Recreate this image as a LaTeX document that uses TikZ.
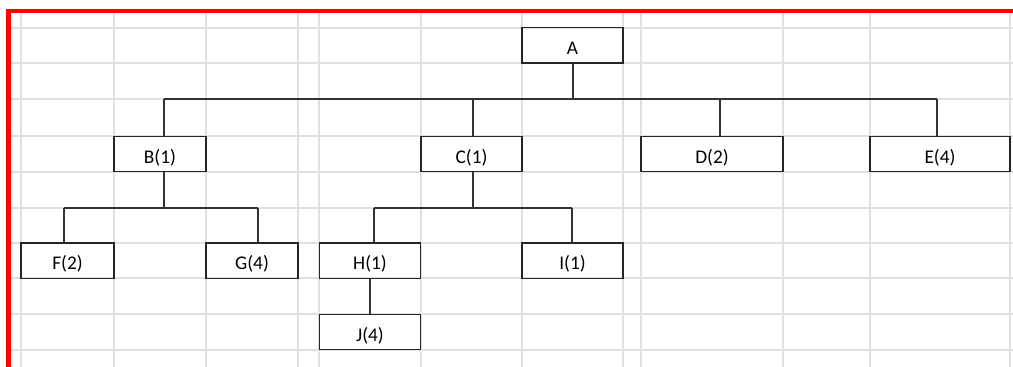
\documentclass[tikz,border=0pt]{standalone}
\usepackage{fontspec}
\setmainfont{Carlito}
\begin{document}
\begin{tikzpicture}[x=0.75pt,y=-0.75pt,
	cell/.style={draw=black!85,line width=1pt,inner sep=0pt,minimum height=26.5pt,text height=14pt,text depth=0pt,font=\fontsize{14.5}{17}\selectfont},
	link/.style={draw=black!80,line width=1.1pt},
	gridline/.style={draw=black!12,line width=1pt}]

	\useasboundingbox (0,0) rectangle (1013,367);

	\foreach \x in {21,114,206,298,319,421,522,623,641,783,870,1010}
		\draw[gridline] (\x,11) -- (\x,367);
	\foreach \y in {28,63,99,136,172,208,243,278,314,350}
		\draw[gridline] (8,\y) -- (1013,\y);

	\draw[red,line width=3.4pt] (8.5,367) -- (8.5,11) -- (1013,11);

	\node[cell,minimum width=75.75pt] (A) at (572.5,45.5) {A};
	\node[cell,minimum width=69pt] (B) at (160,154) {B(1)};
	\node[cell,minimum width=75.75pt] (C) at (471.5,154) {C(1)};
	\node[cell,minimum width=106.5pt] (D) at (712,154) {D(2)};
	\node[cell,minimum width=105pt] (E) at (940,154) {E(4)};
	\node[cell,minimum width=69.75pt] (F) at (67.5,260.5) {F(2)};
	\node[cell,minimum width=69pt] (G) at (252,260.5) {G(4)};
	\node[cell,minimum width=75.75pt] (H) at (370,260.5) {H(1)};
	\node[cell,minimum width=75.75pt] (I) at (572.5,260.5) {I(1)};
	\node[cell,minimum width=75.75pt] (J) at (370,332) {J(4)};

	\coordinate (busA) at (0,99);
	\coordinate (busB) at (0,208);
	\coordinate (busC) at (0,208);

	\draw[link] ([xshift=0.375pt]A.south) -- ([xshift=0.375pt]A.south |- busA);
	\draw[link] ([xshift=3pt]B.north |- busA) -- ([xshift=-2.25pt]E.north |- busA);
	\draw[link] ([xshift=3pt]B.north) -- ([xshift=3pt]B.north |- busA);
	\draw[link] ([xshift=1.125pt]C.north) -- ([xshift=1.125pt]C.north |- busA);
	\draw[link] ([xshift=6pt]D.north) -- ([xshift=6pt]D.north |- busA);
	\draw[link] ([xshift=-2.25pt]E.north) -- ([xshift=-2.25pt]E.north |- busA);

	\draw[link] ([xshift=3pt]B.south) -- ([xshift=3pt]B.south |- busB);
	\draw[link] ([xshift=-2.625pt]F.north |- busB) -- ([xshift=4.5pt]G.north |- busB);
	\draw[link] ([xshift=-2.625pt]F.north) -- ([xshift=-2.625pt]F.north |- busB);
	\draw[link] ([xshift=4.5pt]G.north) -- ([xshift=4.5pt]G.north |- busB);

	\draw[link] ([xshift=1.125pt]C.south) -- ([xshift=1.125pt]C.south |- busC);
	\draw[link] ([xshift=3pt]H.north |- busC) -- ([xshift=-0.375pt]I.north |- busC);
	\draw[link] ([xshift=3pt]H.north) -- ([xshift=3pt]H.north |- busC);
	\draw[link] ([xshift=-0.375pt]I.north) -- ([xshift=-0.375pt]I.north |- busC);

	\draw[link] (H) -- (J);

\end{tikzpicture}
\end{document}
